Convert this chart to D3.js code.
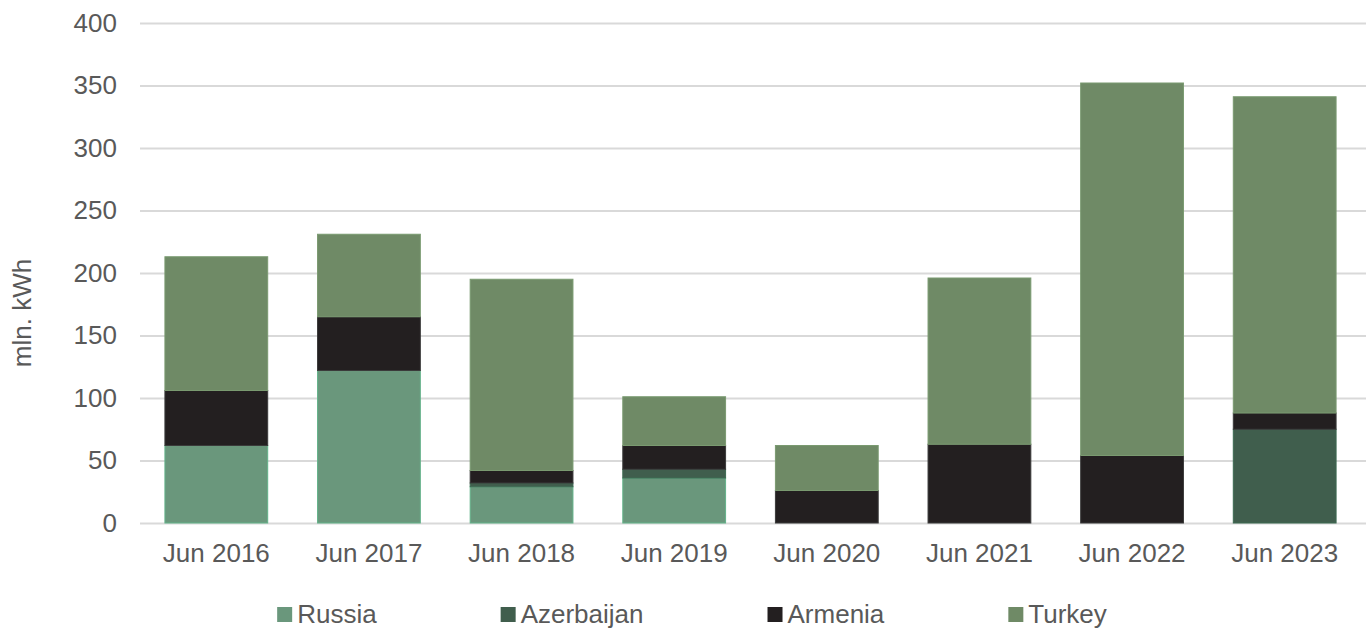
<!DOCTYPE html>
<html>
<head>
<meta charset="utf-8">
<script src="https://cdn.jsdelivr.net/npm/d3@7/dist/d3.min.js"></script>
<style>
  html, body { margin: 0; padding: 0; background: #fff; }
  svg { display: block; font-family: "Liberation Sans", Arial, sans-serif; }
</style>
</head>
<body>
<svg id="chart" width="1366" height="630"></svg>
<script>
// Electricity imports by source country, mln. kWh (June of each year)
const categories = ["Jun 2016", "Jun 2017", "Jun 2018", "Jun 2019", "Jun 2020", "Jun 2021", "Jun 2022", "Jun 2023"];
const seriesNames = ["Russia", "Azerbaijan", "Armenia", "Turkey"];
const russia     = [62, 122, 29, 36, 0, 0, 0, 0];
const azerbaijan = [0, 0, 3, 7, 0, 0, 0, 75];
const armenia    = [44, 43, 10, 19, 26, 63, 54, 13];
const turkey     = [107, 66, 153, 39, 36, 133, 298, 253];
const yTicks     = [0, 50, 100, 150, 200, 250, 300, 350, 400];

(function () {
  const colors = {
    Russia:     { fill: "#6a977c", stroke: "#63b38a" },
    Azerbaijan: { fill: "#405e4d", stroke: "#3d6a52" },
    Armenia:    { fill: "#231f20", stroke: "#3a3a3a" },
    Turkey:     { fill: "#6f8a66", stroke: "#7a9a70" }
  };

  const rows = categories.map((c, i) => ({
    category: c,
    Russia: russia[i],
    Azerbaijan: azerbaijan[i],
    Armenia: armenia[i],
    Turkey: turkey[i]
  }));

  const svg = d3.select("#chart");
  const plotLeft = 140, plotRight = 1361, plotTop = 23, plotBottom = 523;

  const x = d3.scaleBand()
    .domain(categories)
    .range([plotLeft, plotRight])
    .paddingInner(0.32)
    .paddingOuter(0.16);

  const y = d3.scaleLinear().domain([0, 400]).range([plotBottom, plotTop]);

  // Horizontal gridlines
  svg.append("g")
    .attr("transform", `translate(${plotLeft},0)`)
    .call(d3.axisLeft(y).tickValues(yTicks).tickSize(-(1366 - plotLeft)).tickFormat(""))
    .call(g => g.select(".domain").remove())
    .call(g => g.selectAll("line").attr("stroke", "#d9d9d9").attr("stroke-width", 2));

  // Y axis labels
  svg.append("g")
    .attr("transform", `translate(${plotLeft},0)`)
    .call(d3.axisLeft(y).tickValues(yTicks).tickSize(0).tickPadding(23))
    .call(g => g.select(".domain").remove())
    .call(g => g.selectAll("text")
      .attr("fill", "#595959")
      .style("font-size", "26px")
      .style("font-family", "'Liberation Sans', Arial, sans-serif"));

  // Stacked bars
  const layers = d3.stack().keys(seriesNames)(rows);

  svg.append("g")
    .selectAll("g")
    .data(layers)
    .join("g")
    .attr("fill", d => colors[d.key].fill)
    .attr("stroke", d => colors[d.key].stroke)
    .attr("stroke-width", 1)
    .selectAll("rect")
    .data(d => d.filter(s => s[1] - s[0] > 0))
    .join("rect")
    .attr("x", d => x(d.data.category) + 0.5)
    .attr("width", x.bandwidth() - 1)
    .attr("y", d => y(d[1]))
    .attr("height", d => y(d[0]) - y(d[1]));

  // X axis labels
  svg.append("g")
    .attr("transform", `translate(0,${plotBottom})`)
    .call(d3.axisBottom(x).tickSize(0).tickPadding(21))
    .call(g => g.select(".domain").remove())
    .call(g => g.selectAll("text")
      .attr("fill", "#595959")
      .style("font-size", "26px")
      .style("font-family", "'Liberation Sans', Arial, sans-serif"));

  // Y axis title
  svg.append("text")
    .attr("transform", "translate(31,313) rotate(-90)")
    .attr("text-anchor", "middle")
    .attr("fill", "#595959")
    .style("font-size", "26px")
    .text("mln. kWh");

  // Legend
  const items = svg.append("g")
    .selectAll("g")
    .data(seriesNames)
    .join("g");

  items.append("rect")
    .attr("width", 15)
    .attr("height", 15)
    .attr("y", 607)
    .attr("fill", d => colors[d].fill);

  items.append("text")
    .attr("x", 20)
    .attr("y", 623)
    .attr("fill", "#595959")
    .style("font-size", "26px")
    .text(d => d);

  const gap = 124;
  let cursor = 0;
  const offsets = [];
  items.each(function () {
    const w = 20 + d3.select(this).select("text").node().getComputedTextLength();
    offsets.push(cursor);
    cursor += w + gap;
  });
  const total = cursor - gap;
  const start = 692 - total / 2;
  items.attr("transform", (d, i) => `translate(${start + offsets[i]},0)`);
})();
</script>
</body>
</html>
